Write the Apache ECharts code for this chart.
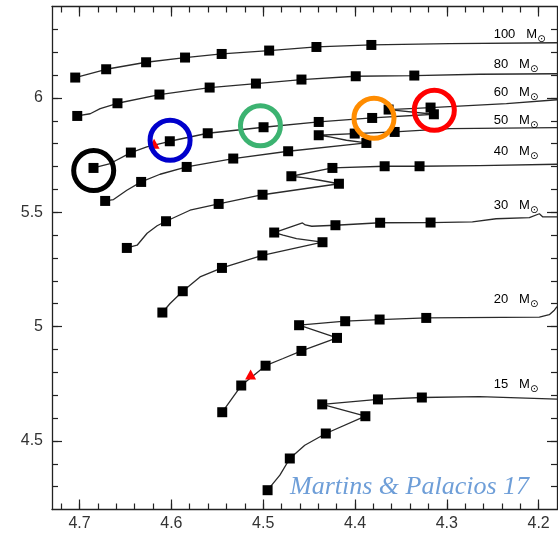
<!DOCTYPE html>
<html><head><meta charset="utf-8">
<script src="https://cdn.jsdelivr.net/npm/echarts@6/dist/echarts.min.js"></script>
<style>html,body{margin:0;padding:0;background:#fff}#c{width:558px;height:533px}</style>
</head><body><div id="c"></div>
<script>
// ---- data (log Teff, log L, marker flag) ----
const masses = ['100', '80', '60', '50', '40', '30', '20', '15'];
const labelLogL = [6.2777, 6.1452, 6.0227, 5.9034, 5.7678, 5.5286, 5.1175, 4.7458];
const labelLogT = 4.249;

const track100 = [[4.7047,6.0892,1],[4.6710,6.1255,1],[4.6275,6.1561,1],[4.5851,6.1767,1],[4.5452,6.1924,1],[4.4935,6.2073,1],[4.4420,6.2230,1],[4.3822,6.2318,1],[4.2971,6.2379,0],[4.18,6.2414,0]];
const track80 = [[4.7025,5.9213,1],[4.6884,5.9309,0],[4.6775,5.9536,0],[4.6587,5.9768,1],[4.6130,6.0149,1],[4.5583,6.0455,1],[4.5079,6.0630,1],[4.4583,6.0805,1],[4.3992,6.0949,1],[4.3354,6.0980,1],[4.2645,6.1036,0],[4.18,6.1058,0]];
const track60 = [[4.6848,5.6939,1],[4.6666,5.7131,0],[4.6441,5.7612,1],[4.6267,5.7857,0],[4.6017,5.8106,1],[4.5604,5.8456,1],[4.4996,5.8719,1],[4.4395,5.8950,1],[4.3813,5.9125,1],[4.3141,5.9287,1],[4.3634,5.9493,1],[4.3177,5.9580,1],[4.2351,5.9755,0],[4.18,5.9921,0]];
const track50 = [[4.6721,5.5496,1],[4.6630,5.5557,0],[4.6485,5.5964,0],[4.6329,5.6327,1],[4.6123,5.6663,0],[4.5833,5.6983,1],[4.5326,5.7350,1],[4.4728,5.7669,1],[4.3876,5.8032,1],[4.4093,5.8150,0],[4.4275,5.8294,0],[4.4395,5.8369,1],[4.4003,5.8443,1],[4.3568,5.8513,1],[4.2971,5.8662,0],[4.18,5.8706,0]];
const track40 = [[4.6485,5.3440,1],[4.6373,5.3558,0],[4.6264,5.4083,0],[4.6155,5.4411,0],[4.6058,5.4608,1],[4.5797,5.5089,0],[4.5485,5.5365,1],[4.5007,5.5767,1],[4.4175,5.6248,1],[4.4384,5.6401,0],[4.4565,5.6519,0],[4.4693,5.6576,1],[4.4246,5.6939,1],[4.3677,5.7013,1],[4.3297,5.7013,1],[4.2645,5.7044,0],[4.18,5.7101,0]];
const track30 = [[4.6098,5.0615,1],[4.6014,5.1009,0],[4.5876,5.1547,1],[4.5688,5.2172,0],[4.5449,5.2566,1],[4.5009,5.3112,1],[4.4354,5.3690,1],[4.4637,5.3851,0],[4.4783,5.3996,0],[4.4880,5.4114,1],[4.4572,5.4534,0],[4.4541,5.4446,0],[4.4471,5.4389,0],[4.4213,5.4433,1],[4.3726,5.4542,1],[4.3177,5.4551,1],[4.2721,5.4577,0],[4.2463,5.4717,0],[4.2101,5.4770,0],[4.1992,5.4936,0],[4.1954,5.4796,0],[4.18,5.4796,0]];
const track20 = [[4.5446,4.6255,1],[4.5239,4.7423,1],[4.4974,4.8289,1],[4.4783,4.8604,0],[4.4583,4.8936,1],[4.4196,4.9505,1],[4.4609,5.0060,1],[4.4107,5.0235,1],[4.3732,5.0309,1],[4.3224,5.0379,1],[4.1992,5.0410,0],[4.1884,5.0519,0],[4.1829,5.0716,0],[4.18,5.0869,0]];
const track15 = [[4.4952,4.2844,1],[4.4818,4.3500,0],[4.4710,4.4231,1],[4.4547,4.4812,0],[4.4318,4.5324,1],[4.3887,4.6080,1],[4.4357,4.6597,1],[4.3750,4.6815,1],[4.3272,4.6898,1],[4.2645,4.6933,0],[4.18,4.6824,0]];

const redTriangles = [[4.6188,5.7997],[4.5137,4.7904]];
const circleCenters = [[4.6846,5.6824],[4.6014,5.8150],[4.5030,5.8784],[4.3793,5.9112],[4.3136,5.9462]];

const xMajor = [4.2, 4.3, 4.4, 4.5, 4.6, 4.7];
const xMinor = [4.2,4.22,4.24,4.26,4.28,4.3,4.32,4.34,4.36,4.38,4.4,4.42,4.44,4.46,4.48,4.5,4.52,4.54,4.56,4.58,4.6,4.62,4.64,4.66,4.68,4.7,4.72];
const yMajor = [4.5, 5, 5.5, 6];
const yMinor = [4.3,4.4,4.5,4.6,4.7,4.8,4.9,5,5.1,5.2,5.3,5.4,5.5,5.6,5.7,5.8,5.9,6,6.1,6.2,6.3];
const credit = 'Martins & Palacios 17';

// ---- styles ----
const circleColors = ['#000000', '#0000cc', '#3cb371', '#ff8c00', '#ff0000'];
const axisColor = '#222';
const tracks = [track100, track80, track60, track50, track40, track30, track20, track15];

function xAx(pos, ticks, len, showLine, showLabel) {
  return {
    type: 'value', position: pos, inverse: true, min: 4.18, max: 4.73,
    axisLine: { show: showLine, onZero: false, lineStyle: { color: axisColor, width: 1.3 } },
    axisTick: { show: true, inside: true, length: len, customValues: ticks, lineStyle: { color: axisColor, width: 1.2 } },
    axisLabel: { show: showLabel, customValues: xMajor, margin: 6, fontSize: 16, color: '#333', fontFamily: 'Liberation Sans', formatter: v => String(v) },
    splitLine: { show: false }
  };
}
function yAx(pos, ticks, len, showLine, showLabel) {
  return {
    type: 'value', position: pos, min: 4.2, max: 6.4,
    axisLine: { show: showLine, onZero: false, lineStyle: { color: axisColor, width: 1.3 } },
    axisTick: { show: true, inside: true, length: len, customValues: ticks, lineStyle: { color: axisColor, width: 1.2 } },
    axisLabel: { show: showLabel, customValues: yMajor, margin: 9, fontSize: 16, color: '#333', fontFamily: 'Liberation Sans', formatter: v => String(v) },
    splitLine: { show: false }
  };
}

const series = [];
tracks.forEach(t => {
  series.push({
    type: 'line', data: t, xAxisIndex: 0, yAxisIndex: 0,
    symbol: v => (v[2] ? 'rect' : 'none'), symbolSize: 10, showSymbol: true,
    itemStyle: { color: '#000', opacity: 1 }, lineStyle: { color: '#2a2a2a', width: 1.3 },
    silent: true, z: 2, clip: true
  });
});
series.push({
  type: 'scatter', data: redTriangles, symbol: 'triangle', symbolSize: [11, 10],
  itemStyle: { color: '#ff0000', opacity: 1 }, silent: true, z: 3
});
series.push({
  type: 'scatter', data: circleCenters.map((c, i) => ({ value: c, itemStyle: { borderColor: circleColors[i] } })),
  symbol: 'circle', symbolSize: 40,
  itemStyle: { color: 'rgba(0,0,0,0)', borderWidth: 5, opacity: 1 }, silent: true, z: 4
});
series.push({
  type: 'scatter', data: masses.map((m, i) => [labelLogT, labelLogL[i]]),
  symbolSize: 0, silent: true, z: 5, itemStyle: { opacity: 1 },
  label: {
    show: true, position: 'right', distance: 0, opacity: 1,
    formatter: p => '{n|' + masses[p.dataIndex] + '}{m|M}{s|\u2299}',
    rich: {
      n: { fontSize: 13, fontFamily: 'Liberation Sans', color: '#000', lineHeight: 20, verticalAlign: 'middle' },
      m: { fontSize: 13, fontFamily: 'Liberation Sans', color: '#000', lineHeight: 20, verticalAlign: 'middle', padding: [0, 0, 0, 11] },
      s: { fontSize: 10, fontFamily: 'DejaVu Sans', color: '#000', lineHeight: 10, verticalAlign: 'bottom' }
    }
  }
});

const chart = echarts.init(document.getElementById('c'), null, { renderer: 'canvas' });
chart.setOption({
  animation: false,
  backgroundColor: '#fff',
  grid: { left: 52, right: 1, top: 6.5, bottom: 23.5, containLabel: false },
  xAxis: [xAx('bottom', xMajor, 10, true, true), xAx('bottom', xMinor, 6, false, false), xAx('top', xMajor, 10, true, false), xAx('top', xMinor, 6, false, false)],
  yAxis: [yAx('left', yMajor, 10, true, true), yAx('left', yMinor, 6, false, false), yAx('right', yMajor, 10, true, false), yAx('right', yMinor, 6, false, false)],
  series: series,
  graphic: [{
    type: 'text', left: 290, top: 474, silent: true,
    style: { text: credit, font: 'italic 26px "Liberation Serif"', fill: '#6e9ed8' }
  }]
});
</script></body></html>
